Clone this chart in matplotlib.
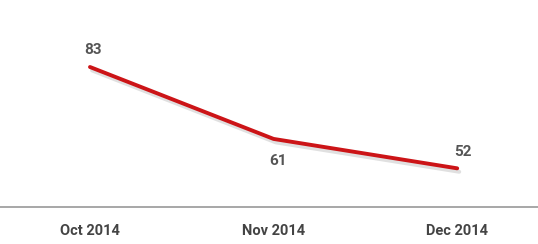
import matplotlib.pyplot as plt
import matplotlib.patheffects as pe

months = ['Oct 2014', 'Nov 2014', 'Dec 2014']
values = [83, 61, 52]
# label offsets (points) for each value label
offsets = [(2, 12), (3, -16), (4, 12)]

plt.rcParams['font.family'] = ['Roboto', 'DejaVu Sans']

fig = plt.figure(figsize=(5.38, 2.44), dpi=100)
ax = fig.add_axes([0, 0.152, 1, 0.848])

x = list(range(len(months)))
ax.plot(x, values, color='#cc1417', lw=2.8, solid_capstyle='round',
        path_effects=[pe.SimpleLineShadow(offset=(1.5, -2.5), shadow_color='#999999', alpha=0.3),
                      pe.Normal()])

for xi, v, off in zip(x, values, offsets):
    ax.annotate(str(v), (xi, v), xytext=off, textcoords='offset points',
                ha='center', va='center', fontsize=11, fontweight='bold', color='#555555')

ax.set_xlim(-0.49, 2.44)
ax.set_ylim(40.2, 103.5)
ax.set_xticks(x)
ax.set_xticklabels(months, fontsize=10.5, fontweight='bold', color='#444444')
ax.tick_params(axis='x', length=0, pad=12)
ax.set_yticks([])
for s in ['top', 'left', 'right']:
    ax.spines[s].set_visible(False)
ax.spines['bottom'].set_color('#a0a0a0')
ax.spines['bottom'].set_linewidth(1.3)

fig.savefig('out.png', dpi=100)
